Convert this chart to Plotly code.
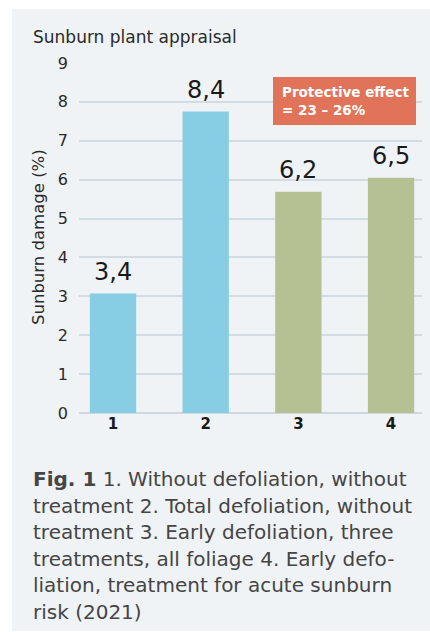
import plotly.graph_objects as go

categories = [1, 2, 3, 4]
tick_labels = ["1", "2", "3", "4"]
bar_heights = [3.07, 7.75, 5.69, 6.05]
value_labels = ["3,4", "8,4", "6,2", "6,5"]
bar_colors = ["#87cde3", "#87cde3", "#b5c192", "#b5c192"]
y_ticks = [0, 1, 2, 3, 4, 5, 6, 7, 8, 9]

W, H = 430, 632
ML, MR, MT, MB = 79, 8, 63, 219
PW, PH = W - ML - MR, H - MT - MB


def px(x):
    return (x - ML) / PW


def py(y):
    return (H - MB - y) / PH


FONT = "DejaVu Sans"

fig = go.Figure()
fig.add_trace(go.Bar(
    x=categories, y=bar_heights, width=0.5,
    marker=dict(color=bar_colors, line=dict(width=0)),
    hoverinfo="skip",
))

annotations = []
for c, v, t in zip(categories, bar_heights, value_labels):
    annotations.append(dict(x=c, y=v, xref="x", yref="y", text=t, showarrow=False,
                            yanchor="middle", yshift=22,
                            font=dict(family=FONT, size=24, color="#1a1a1a")))

annotations.append(dict(x=px(31), y=py(37), xref="paper", yref="paper",
                        text="Sunburn plant appraisal", showarrow=False,
                        xanchor="left", yanchor="middle",
                        font=dict(family=FONT, size=17, color="#2a2a2a")))

annotations.append(dict(x=px(38), y=py(237), xref="paper", yref="paper",
                        text="Sunburn damage (%)", showarrow=False, textangle=-90,
                        xanchor="center", yanchor="middle",
                        font=dict(family=FONT, size=16.5, color="#2a2a2a")))

annotations.append(dict(x=px(280), y=py(101), xref="paper", yref="paper",
                        text="<b>Protective effect<br>= 23 – 26%</b>", showarrow=False,
                        xanchor="left", yanchor="middle", align="left",
                        font=dict(family=FONT, size=13.5, color="#ffffff")))

caption_lines = [
    "<b>Fig. 1</b> 1. Without defoliation, without",
    "treatment 2. Total defoliation, without",
    "treatment 3. Early defoliation, three",
    "treatments, all foliage 4. Early defo-",
    "liation, treatment for acute sunburn",
    "risk (2021)",
]
caption_y = [479, 506, 532, 559, 585, 612]
for line, yy in zip(caption_lines, caption_y):
    annotations.append(dict(x=px(31), y=py(yy), xref="paper", yref="paper",
                            text=line, showarrow=False, xanchor="left", yanchor="middle",
                            font=dict(family=FONT, size=20, color="#454545")))

shapes = [
    dict(type="rect", xref="paper", yref="paper", x0=px(12), x1=px(431), y0=py(631), y1=py(9),
         fillcolor="#eff3f6", line=dict(width=0), layer="below"),
    dict(type="rect", xref="paper", yref="paper", x0=px(273), x1=px(416), y0=py(125), y1=py(77),
         fillcolor="#e07358", line=dict(width=0), layer="above"),
]

fig.update_layout(
    width=W, height=H,
    margin=dict(l=ML, r=MR, t=MT, b=MB, pad=0),
    paper_bgcolor="#ffffff", plot_bgcolor="rgba(0,0,0,0)",
    showlegend=False,
    annotations=annotations, shapes=shapes,
    xaxis=dict(range=[0.633, 4.334], tickvals=categories, ticktext=tick_labels,
               showgrid=False, zeroline=False, showline=False, ticks="",
               tickfont=dict(family=FONT, size=15, color="#1a1a1a", weight="bold"),
               fixedrange=True),
    yaxis=dict(range=[0, 9], tickvals=y_ticks, showgrid=True, gridcolor="#d3dbe3",
               gridwidth=1.5, zeroline=True, zerolinecolor="#cfd7df", zerolinewidth=1.5,
               showline=False, ticks="", ticklabelstandoff=10,
               tickfont=dict(family=FONT, size=16, color="#2a2a2a"), fixedrange=True),
)

fig.write_html("out.html", config={"displayModeBar": False},
               post_script="document.body.style.margin='0';document.body.style.padding='0';")
